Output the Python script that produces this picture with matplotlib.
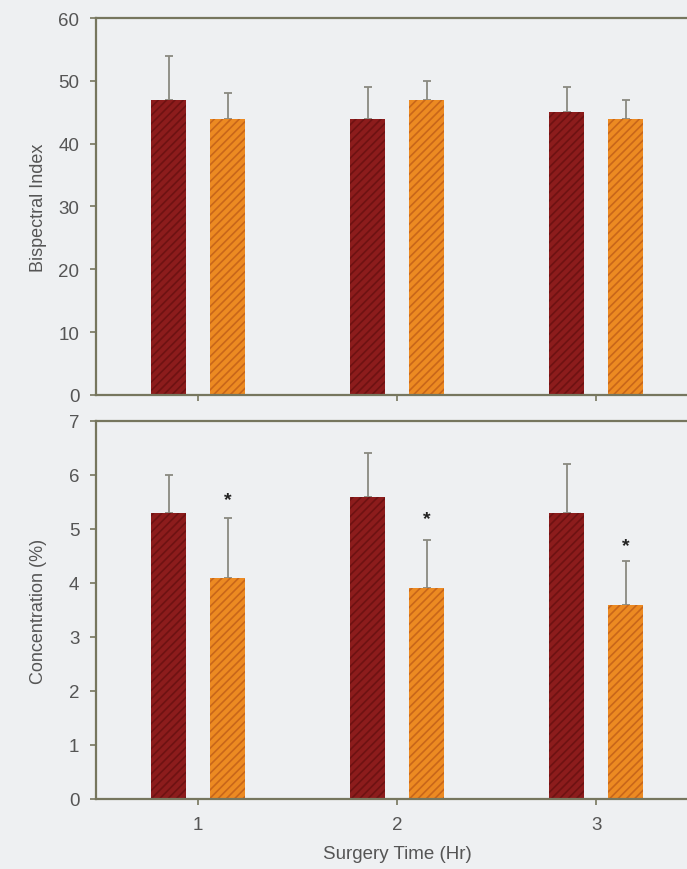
import matplotlib
matplotlib.use("Agg")
import matplotlib.pyplot as plt
import numpy as np

plt.rcParams['font.family'] = ['Liberation Sans', 'DejaVu Sans']
plt.rcParams['hatch.linewidth'] = 1.2

hours = [1, 2, 3]
bis_a = [47, 44, 45]
bis_a_err = [7, 5, 4]
bis_b = [44, 47, 44]
bis_b_err = [4, 3, 3]
conc_a = [5.3, 5.6, 5.3]
conc_a_err = [0.7, 0.8, 0.9]
conc_b = [4.1, 3.9, 3.6]
conc_b_err = [1.1, 0.9, 0.8]
star_y = [5.55, 5.2, 4.7]

bg = '#eef0f2'
spine = '#76765e'
txt = '#555555'
red = '#8c1c1c'
red_h = '#6e1212'
orange = '#ec8a22'
orange_h = '#c8661a'

fig = plt.figure(figsize=(6.87, 8.7), dpi=100)
fig.patch.set_facecolor(bg)
ax1 = fig.add_axes([0.1397, 0.545, 0.98, 0.433])
ax2 = fig.add_axes([0.1397, 0.0805, 0.98, 0.4345])

x = np.array(hours)
off = 0.148
w = 0.176


def draw(ax, a, ae, b, be):
    ax.set_facecolor(bg)
    ax.bar(x - off, a, width=w, color=red, edgecolor=red_h, hatch='////', linewidth=0, zorder=2)
    ax.bar(x + off, b, width=w, color=orange, edgecolor=orange_h, hatch='////', linewidth=0, zorder=2)
    ax.errorbar(x - off, a, yerr=[np.zeros(3), ae], fmt='none', ecolor='#8a8a80',
                elinewidth=1.3, capsize=3, capthick=1.3, zorder=1)
    ax.errorbar(x + off, b, yerr=[np.zeros(3), be], fmt='none', ecolor='#8a8a80',
                elinewidth=1.3, capsize=3, capthick=1.3, zorder=1)
    for s in ax.spines.values():
        s.set_color(spine)
        s.set_linewidth(1.6)
    ax.spines['right'].set_visible(False)
    # axes run past the right edge of the figure, like the cropped original
    ax.set_xlim(0.487, 0.487 + 0.98 * 687 / 199.0)
    ax.set_xticks(hours)
    ax.tick_params(axis='both', colors=spine, labelcolor=txt, labelsize=13.5, length=4, width=1.2, pad=8)
    ax.yaxis.set_label_coords(-0.072, 0.5)


draw(ax1, bis_a, bis_a_err, bis_b, bis_b_err)
draw(ax2, conc_a, conc_a_err, conc_b, conc_b_err)

ax1.set_ylim(0, 60)
ax1.set_yticks(range(0, 61, 10))
ax1.set_xticklabels([])
ax1.set_ylabel('Bispectral Index', color=txt, fontsize=13)

ax2.set_ylim(0, 7)
ax2.set_yticks(range(0, 8))
ax2.set_xticklabels([str(h) for h in hours])
ax2.set_ylabel('Concentration (%)', color=txt, fontsize=13)
ax2.set_xlabel('Surgery Time (Hr)', color=txt, fontsize=13.5)
ax2.xaxis.set_label_coords(0.447, -0.122)

for xi, yi in zip(x + off, star_y):
    ax2.text(xi, yi, '*', ha='center', va='center', fontsize=14, color='#222222', fontweight='bold')

fig.savefig('out.png', dpi=100, facecolor=bg)
